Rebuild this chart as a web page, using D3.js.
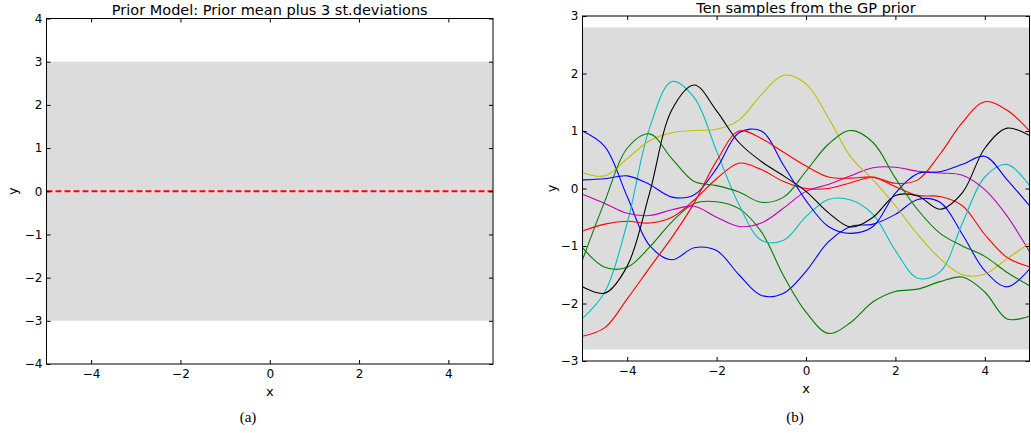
<!DOCTYPE html>
<html>
<head>
<meta charset="utf-8">
<script src="https://cdn.jsdelivr.net/npm/d3@7"></script>
<style>
  body { margin: 0; background: #fff; }
  text { font-family: "DejaVu Sans", sans-serif; fill: #000; }
  .tick text { font-size: 12px; }
  .caption { font-family: "Liberation Serif", "DejaVu Serif", serif; font-size: 15px; }
</style>
</head>
<body>
<div id="chart"></div>
<script>
// ---- data ----
const xTicks = [-4, -2, 0, 2, 4]
const yTicksA = [-4, -3, -2, -1, 0, 1, 2, 3, 4]
const yTicksB = [-3, -2, -1, 0, 1, 2, 3]

// prior model (panel a)
const priorMean = 0
const priorBand = [-3, 3]

// GP prior samples (panel b), every 0.5
const sampleX = [-5, -4.5, -4, -3.5, -3, -2.5, -2, -1.5, -1, -0.5, 0, 0.5, 1, 1.5, 2, 2.5, 3, 3.5, 4, 4.5, 5]
const blueA   = [1.0, 0.73, -0.14, -0.99, -1.24, -1.03, -1.08, -1.5, -1.86, -1.82, -1.44, -0.93, -0.66, -0.62, -0.45, -0.19, -0.24, -0.8, -1.43, -1.71, -1.4]
const greenA  = [-1.03, -1.37, -1.37, -1.02, -0.58, -0.26, -0.23, -0.35, -0.75, -1.52, -2.15, -2.52, -2.33, -1.97, -1.79, -1.75, -1.62, -1.54, -1.8, -2.27, -2.22]
const redA    = [-0.74, -0.62, -0.57, -0.6, -0.5, -0.2, 0.17, 0.44, 0.33, 0.12, 0.0, 0.0, 0.1, 0.19, 0.03, -0.12, -0.14, -0.3, -0.8, -1.2, -1.36]
const cyan    = [-2.26, -1.8, -0.6, 1.05, 1.86, 1.58, 0.65, -0.28, -0.9, -0.9, -0.49, -0.19, -0.2, -0.45, -1.08, -1.56, -1.45, -0.6, 0.2, 0.42, 0.05]
const magenta = [-0.1, -0.26, -0.43, -0.47, -0.37, -0.31, -0.5, -0.66, -0.6, -0.34, -0.05, 0.07, 0.22, 0.36, 0.37, 0.3, 0.27, 0.23, -0.02, -0.48, -1.1]
const yellow  = [0.28, 0.22, 0.52, 0.83, 0.97, 1.01, 1.03, 1.19, 1.63, 1.97, 1.82, 1.23, 0.55, 0.15, -0.3, -0.8, -1.22, -1.5, -1.49, -1.22, -0.95]
const black   = [-1.71, -1.82, -1.35, -0.08, 1.37, 1.8, 1.35, 0.8, 0.47, 0.22, -0.05, -0.42, -0.67, -0.5, -0.12, -0.13, -0.36, -0.07, 0.7, 1.05, 0.92]
const blueB   = [0.15, 0.17, 0.22, 0.07, -0.15, -0.11, 0.35, 0.97, 1.0, 0.4, -0.21, -0.66, -0.78, -0.66, -0.08, 0.26, 0.29, 0.42, 0.56, 0.15, -0.3]
const greenB  = [-1.24, -0.22, 0.7, 0.95, 0.52, 0.12, 0.05, -0.06, -0.24, -0.15, 0.3, 0.77, 1.01, 0.8, 0.18, -0.37, -0.78, -1.0, -1.18, -1.46, -1.69]
const redB    = [-2.57, -2.42, -1.92, -1.38, -0.85, -0.25, 0.48, 1.0, 0.87, 0.63, 0.39, 0.2, 0.18, 0.2, 0.09, 0.15, 0.6, 1.15, 1.51, 1.36, 1.0]
const samples = [blueA, greenA, redA, cyan, magenta, yellow, black, blueB, greenB, redB]
const sampleColors = ["#0000ff", "#008000", "#ff0000", "#00bfbf", "#bf00bf", "#bfbf00", "#000000", "#0000ff", "#008000", "#ff0000"]
const sampleBand = [-2.8, 2.8]

const W = 1031, H = 433
const bandColor = "#dcdcdc"

const svg = d3.select("#chart").append("svg")
    .attr("width", W)
    .attr("height", H)

const minus = d => d3.format("d")(d).replace("-", "\u2212")

// one framed panel with matplotlib-classic inward ticks
function panel(box, yDomain, yTicks, opts) {
    const x = d3.scaleLinear().domain([-5, 5]).range([box.left, box.right])
    const y = d3.scaleLinear().domain(yDomain).range([box.bottom, box.top])
    const g = svg.append("g")

    const clipId = "clip" + Math.round(box.left)
    g.append("clipPath").attr("id", clipId)
        .append("rect")
        .attr("x", box.left).attr("y", box.top)
        .attr("width", box.right - box.left).attr("height", box.bottom - box.top)
    const plot = g.append("g").attr("clip-path", "url(#" + clipId + ")")

    const axes = g.append("g")
    axes.append("g")
        .attr("transform", "translate(0," + box.bottom + ")")
        .call(d3.axisBottom(x).tickValues(xTicks).tickSize(-4).tickSizeOuter(0).tickPadding(5).tickFormat(minus))
    axes.append("g")
        .attr("transform", "translate(0," + box.top + ")")
        .call(d3.axisTop(x).tickValues(xTicks).tickSize(-4).tickSizeOuter(0).tickFormat(""))
    axes.append("g")
        .attr("transform", "translate(" + box.left + ",0)")
        .call(d3.axisLeft(y).tickValues(yTicks).tickSize(-4).tickSizeOuter(0).tickPadding(4).tickFormat(minus))
    axes.append("g")
        .attr("transform", "translate(" + box.right + ",0)")
        .call(d3.axisRight(y).tickValues(yTicks).tickSize(-4).tickSizeOuter(0).tickFormat(""))
    axes.selectAll(".domain").remove()
    axes.selectAll(".tick line").attr("stroke", "#000")
    axes.selectAll(".tick text").attr("fill", "#000")

    g.append("rect")
        .attr("x", box.left).attr("y", box.top)
        .attr("width", box.right - box.left).attr("height", box.bottom - box.top)
        .attr("fill", "none").attr("stroke", "#000").attr("stroke-width", 1)

    const mid = (box.left + box.right) / 2
    g.append("text")
        .attr("x", mid).attr("y", opts.titleY)
        .attr("text-anchor", "middle").style("font-size", opts.titleSize)
        .text(opts.title)
    g.append("text")
        .attr("x", mid).attr("y", box.bottom + 32)
        .attr("text-anchor", "middle").style("font-size", "13px")
        .text("x")
    g.append("text")
        .attr("transform", "translate(" + opts.yLabelX + "," + (box.top + box.bottom) / 2 + ") rotate(-90)")
        .attr("text-anchor", "middle").style("font-size", "13px")
        .text("y")
    g.append("text")
        .attr("class", "caption")
        .attr("x", opts.captionX).attr("y", 422)
        .attr("text-anchor", "middle")
        .text(opts.caption)

    return { x: x, y: y, plot: plot, axes: axes }
}

// (a) prior mean plus 3 st.deviations
const pa = panel({ left: 46.5, right: 493, top: 18.5, bottom: 364 }, [-4, 4], yTicksA, {
    title: "Prior Model: Prior mean plus 3 st.deviations", titleSize: "14.5px", titleY: 15,
    caption: "(a)", captionX: 248, yLabelX: 17 })

pa.plot.append("path")
    .datum(sampleX)
    .attr("fill", bandColor)
    .attr("d", d3.area()
        .x(d => pa.x(d))
        .y0(pa.y(priorBand[0]))
        .y1(pa.y(priorBand[1])))

pa.plot.append("path")
    .datum(sampleX)
    .attr("fill", "none")
    .attr("stroke", "#ff0000")
    .attr("stroke-width", 2)
    .attr("stroke-dasharray", "6,3")
    .attr("d", d3.line().x(d => pa.x(d)).y(pa.y(priorMean)))
pa.axes.raise()

// (b) ten samples from the GP prior
const pb = panel({ left: 582.5, right: 1029.5, top: 16, bottom: 361 }, [-3, 3], yTicksB, {
    title: "Ten samples from the GP prior", titleSize: "14.5px", titleY: 13,
    caption: "(b)", captionX: 795, yLabelX: 556 })

pb.plot.append("path")
    .datum(sampleX)
    .attr("fill", bandColor)
    .attr("d", d3.area()
        .x(d => pb.x(d))
        .y0(pb.y(sampleBand[0]))
        .y1(pb.y(sampleBand[1])))

const line = d3.line()
    .x((d, i) => pb.x(sampleX[i]))
    .y(d => pb.y(d))
    .curve(d3.curveCatmullRom.alpha(0.5))

pb.plot.selectAll(".sample")
    .data(samples)
    .enter().append("path")
    .attr("class", "sample")
    .attr("fill", "none")
    .attr("stroke", (d, i) => sampleColors[i])
    .attr("stroke-width", 1.1)
    .attr("d", line)
pb.axes.raise()
</script>
</body>
</html>
